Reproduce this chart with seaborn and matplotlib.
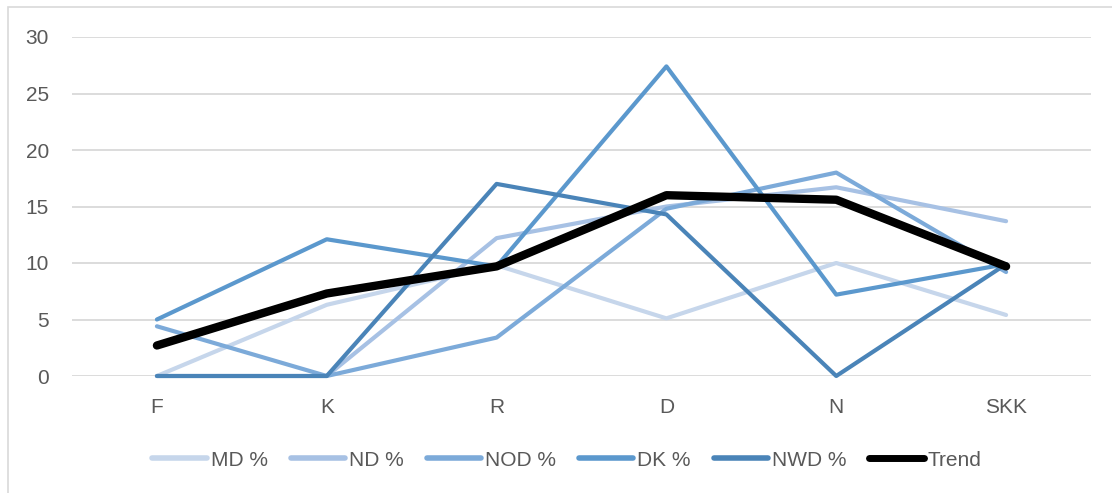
import matplotlib
matplotlib.use("Agg")
import matplotlib.pyplot as plt
from matplotlib.lines import Line2D
from matplotlib.patches import Rectangle
import seaborn as sns
import pandas as pd

# Categories along the x axis
categories = ["F", "K", "R", "D", "N", "SKK"]

# Series values (percent)
md_pct = [0.0, 6.3, 9.8, 5.1, 10.0, 5.4]
nd_pct = [0.0, 0.0, 12.2, 15.0, 16.7, 13.7]
nod_pct = [4.4, 0.0, 3.4, 14.8, 18.0, 9.2]
dk_pct = [5.0, 12.1, 9.7, 27.4, 7.2, 9.9]
nwd_pct = [0.0, 0.0, 17.0, 14.3, 0.0, 9.9]
trend = [2.7, 7.3, 9.7, 16.0, 15.6, 9.7]

series_names = ["MD %", "ND %", "NOD %", "DK %", "NWD %", "Trend"]
series_values = [md_pct, nd_pct, nod_pct, dk_pct, nwd_pct, trend]
colors = ["#c6d6eb", "#a7c1e4", "#7caad9", "#5b98cd", "#4a84b8", "#000000"]
widths = [3.0, 3.0, 3.0, 3.0, 3.0, 6.0]

y_ticks = [0, 5, 10, 15, 20, 25, 30]

frames = []
for name, vals in zip(series_names, series_values):
    frames.append(pd.DataFrame({"category": categories, "value": vals, "series": name}))
df = pd.concat(frames, ignore_index=True)

sns.set_theme(style="white")
plt.rcParams["font.family"] = ["Liberation Sans", "DejaVu Sans"]
text_color = "#595959"
grid_color = "#d9d9d9"

fig = plt.figure(figsize=(11.12, 4.93), dpi=100)
ax = fig.add_axes([72 / 1112, 117 / 493, (1091 - 72) / 1112, (456 - 117) / 493])

# Outer chart frame
fig.patches.append(Rectangle((8 / 1112, -0.1), 1.2, (493 - 7) / 493 + 0.1,
                             transform=fig.transFigure, fill=False,
                             edgecolor=grid_color, linewidth=1.2))

for name, color, lw in zip(series_names, colors, widths):
    sub = df[df["series"] == name]
    sns.lineplot(data=sub, x="category", y="value", color=color, linewidth=lw,
                 sort=False, ax=ax, legend=False, solid_capstyle="round",
                 clip_on=False, zorder=3)

ax.set_xlim(-0.5, len(categories) - 0.5)
ax.set_ylim(0, 30)
ax.set_yticks(y_ticks)
ax.set_yticklabels([str(t) for t in y_ticks])
ax.set_xlabel("")
ax.set_ylabel("")
for s in ax.spines.values():
    s.set_visible(False)
ax.yaxis.grid(True, color=grid_color, linewidth=1.3, zorder=0)
ax.xaxis.grid(False)
ax.set_axisbelow(True)
ax.tick_params(axis="y", length=0, pad=16.5, labelsize=15, labelcolor=text_color)
ax.tick_params(axis="x", length=0, pad=15.5, labelsize=15, labelcolor=text_color)

handles = [Line2D([0], [0], color=c, linewidth=(5 if lw > 4 else 4), solid_capstyle="round")
           for c, lw in zip(colors, widths)]
leg = fig.legend(handles, series_names, loc="center", ncol=6,
                 bbox_to_anchor=(567 / 1112, 1 - 460 / 493), frameon=False,
                 fontsize=15, handlelength=2.6, handletextpad=0.2,
                 columnspacing=1.1, labelcolor=text_color)

fig.savefig("out.png", dpi=100, facecolor="white")
